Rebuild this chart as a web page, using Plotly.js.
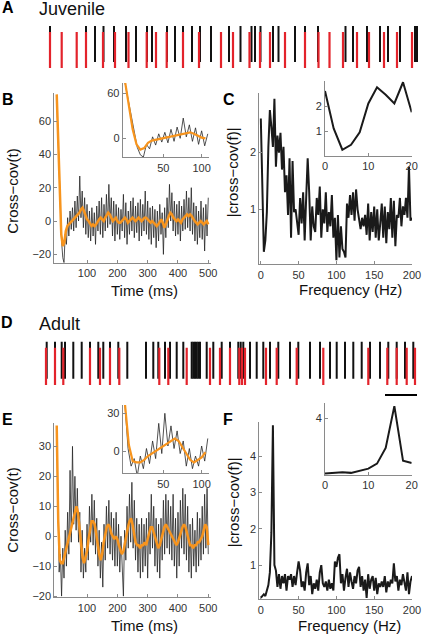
<!DOCTYPE html>
<html><head><meta charset="utf-8">
<script src="https://cdn.plot.ly/plotly-3.0.1.min.js"></script>
<style>html,body{margin:0;padding:0;background:#fff}#chart{width:426px;height:636px}</style>
</head><body><div id="chart"></div>
<script>
// ---------- DATA ----------
// Spike rasters (arbitrary time units along the raster)
const juvenileSpikesBlack = [50,86,95,103.5,114,126,136,147,152,167,175,183,192,200,211,229,240.5,251.5,255,260.5,273,278.5,295,305,318,345.5,353,367,380,388,400,415,417];
const juvenileSpikesRed   = [50,61.7,76.7,86,103,115,128.5,146.7,156,166.7,183,199,221,233,249.5,260,270,285,305,318.5,329.5,343,357,369,384,397,412];
const adultSpikesBlack = [46.7,55,61.7,65,73.3,81.7,90,98.3,103.3,110,118.3,127.3,146,153.3,158.3,165,170,176.7,183.3,191.7,193.3,195,196.7,198.3,200,206.7,213.3,221.7,230,238.3,240.7,243.3,250,256.7,263.3,270,278.3,290,298.3,310,320,330,336.7,345,353.3,361.7,370,380,388.3,396.7,405,413.3];
const adultSpikesRed   = [46,55,63.3,90,100,110,119.3,159.3,168.3,186.7,210,220,230,239.3,242,245,266,276.7,296.7,323.3,368.3,387.3,396.7,406.7,415];
const adultMarkerTime = 137;
const scaleBarStart = 385, scaleBarEnd = 417;

// Cross-covariance in time (raw every 4 ms, smoothed every 5 ms)
const rawStepMs = 4, smoothStepMs = 5;
const juvenileRaw = [74,52,28,5,-12,-22,-25,-8,-14,2,-9,6,-5,8,-6,12,-4,15,0,27,2,18,-4,14,-8,10,-10,6,-12,8,-9,5,-14,9,-6,12,-8,14,-10,10,-6,16,-4,22,-2,14,-9,12,-12,10,-8,8,-11,7,-6,16,-10,11,-14,6,-8,12,-6,14,-10,9,-7,11,-12,13,-9,10,-6,18,-8,12,-11,8,-14,9,-10,7,-16,6,-12,10,-8,5,-20,8,-10,14,-4,22,0,17,-6,12,-9,10,-8,12,-12,9,-6,13,-5,18,-4,14,-6,20,-8,11,-12,9,-14,6,-10,12,-11,8,-18,10,-9,14];
const juvenileSmooth = [76,45,12,-8,-15,-13,-6,-3,-2,-1,0,1,2,3,4,5,7,8,6,3,1,0,-2,-3,-2,-3,-2,0,1,2,1,0,2,4,5,4,2,0,1,2,0,-1,-1,0,1,2,1,-1,0,1,2,1,0,1,2,1,0,1,2,2,1,0,-1,0,-1,-2,-3,-2,0,1,-1,-4,-2,1,3,5,4,2,1,0,1,0,-1,1,2,3,4,3,4,3,1,0,-1,-2,-1,0,-1,-2,-1,0,-2];
const adultRaw = [36,2,-12,-6,-20,-4,-14,2,-10,8,-6,22,-2,30,4,20,2,16,-2,8,-12,2,-14,-4,-12,4,-8,10,-2,14,-3,12,-6,6,-10,2,-14,-2,-17,4,-8,10,-4,12,-6,8,-8,6,-10,8,-10,4,-12,0,-14,-20,2,-8,10,-4,14,-2,18,-4,12,-8,6,-12,4,-14,6,-12,4,-10,6,-14,8,-6,14,-4,10,-10,6,-12,4,-14,6,-8,12,-6,14,-4,12,-6,10,-8,14,-10,6,-14,8,-10,12,-4,16,-6,14,-8,10,-12,4,-14,6,-10,2,-12,8,-10,6,-8,10,-6,14,-4,16,-6];
const adultSmooth = [37,5,-8,-9,-9,-7,-4,-2,0,2,4,6,8,10,8,3,-3,-7,-9,-7,-5,-1,3,5,5,4,1,-3,-6,-8,-6,-2,1,3,4,3,1,0,-1,0,-1,-3,-5,-6,-5,-2,1,3,5,6,4,1,-2,-3,-3,-4,-3,-3,-2,-3,-1,1,3,3,1,-1,-3,-4,-3,-1,1,3,4,3,2,1,0,-1,-2,-3,-2,0,2,3,4,3,1,-1,-3,-3,-4,-3,-3,-2,-2,-1,0,2,4,3,-3];

// |cross-cov(f)| every 2 Hz, 0..200 Hz
const freqStepHz = 2;
const juvenileSpectrum = [2.6,1.1,0.25,0.45,0.95,2.1,2.75,2.45,2.1,2.95,1.75,2.3,2.0,2.35,1.7,2.1,1.3,1.6,0.9,1.9,0.5,1.85,0.95,1.0,0.8,0.55,1.2,0.75,1.3,0.45,1.2,1.9,1.3,0.45,1.05,0.7,0.6,1.2,0.9,1.4,0.5,1.0,0.75,1.3,0.6,0.95,0.7,1.25,0.5,0.85,0.1,0.9,0.15,0.7,0.3,0.25,0.15,1.1,0.85,1.25,0.9,1.3,0.8,1.35,1.0,0.8,0.65,0.85,0.7,0.9,0.55,1.1,0.45,0.95,0.6,1.05,0.5,1.0,0.45,0.75,1.1,0.5,1.05,0.4,0.95,0.65,1.2,0.5,1.15,0.35,0.9,0.85,1.2,0.7,1.05,0.9,1.2,0.85,1.75,0.8,0.85];
const adultSpectrum = [0.1,0.15,0.2,0.15,0.3,0.45,0.8,1.9,4.85,1.0,0.85,0.4,0.75,0.35,0.7,0.5,0.75,0.3,0.7,0.6,0.75,0.4,0.7,0.45,0.8,1.1,0.85,0.4,0.55,0.3,0.8,1.05,0.45,0.7,0.2,0.5,0.35,0.6,0.3,0.8,1.0,0.5,0.4,0.55,0.3,0.6,0.35,0.5,0.3,1.1,0.95,1.2,1.3,0.5,0.75,0.3,0.65,0.9,0.4,0.8,0.55,0.35,0.7,0.5,0.85,0.95,0.4,0.7,0.3,0.6,0.1,0.75,0.35,0.6,0.7,0.3,0.65,0.2,0.5,0.4,0.55,0.4,0.7,0.25,0.55,0.4,0.6,0.5,1.05,0.55,0.7,0.3,0.6,0.45,0.75,0.5,0.3,0.8,0.2,0.55,0.7];

const insetTimeMax = 108, insetFreqMax = 20;

// ---------- HELPERS ----------
const W = 426, H = 636;
const px = x => x / W, py = y => 1 - y / H;
const FONT = 'Liberation Sans, Arial, Helvetica, sans-serif';
const BLACK = '#111', RED = '#e3232b', ORANGE = '#f7941d', TRACE = '#262626', AXC = '#8a8a8a';
const axisOf = (step, n) => Array.from({length: n}, (_, i) => i * step);
function seg(times, y0, y1) {
  const xs = [], ys = [];
  times.forEach(t => { xs.push(t, t, null); ys.push(y0, y1, null); });
  return {x: xs, y: ys};
}
function upTo(xs, ys, max) {
  const ox = [], oy = [];
  xs.forEach((x, i) => { if (x <= max) { ox.push(x); oy.push(ys[i]); } });
  return {x: ox, y: oy};
}
function ax(domain, range, tickvals, anchor, size) {
  return {domain, range, tickvals, anchor, showline: true, linecolor: AXC, linewidth: 1,
    ticks: 'inside', ticklen: 3, tickcolor: AXC, showgrid: false, zeroline: false,
    tickfont: {family: FONT, size: size || 11, color: '#333'}, fixedrange: true};
}
const hidden = (domain, range) => ({domain, range, visible: false, fixedrange: true});

const tJr = axisOf(rawStepMs, juvenileRaw.length), tJs = axisOf(smoothStepMs, juvenileSmooth.length);
const tAr = axisOf(rawStepMs, adultRaw.length), tAs = axisOf(smoothStepMs, adultSmooth.length);
const fJ = axisOf(freqStepHz, juvenileSpectrum.length), fA = axisOf(freqStepHz, adultSpectrum.length);

const traces = [];
function line(xy, xa, ya, color, width) {
  traces.push({x: xy.x, y: xy.y, xaxis: xa, yaxis: ya, mode: 'lines', line: {color, width}, hoverinfo: 'skip'});
}
// rasters
line(seg(juvenileSpikesBlack, 6, 42), 'x', 'y', BLACK, 2);
line(seg(juvenileSpikesRed, 0, 36), 'x', 'y', RED, 2.2);
line(seg(adultSpikesBlack, 6, 42), 'x2', 'y2', BLACK, 2);
line(seg(adultSpikesRed, 0, 36), 'x2', 'y2', RED, 2.2);
traces.push({x: [adultMarkerTime], y: [49], xaxis: 'x2', yaxis: 'y2', mode: 'markers', cliponaxis: false,
  marker: {symbol: 'triangle-down', size: 11, color: '#000'}, hoverinfo: 'skip'});
// B
line({x: tJr, y: juvenileRaw}, 'x3', 'y3', TRACE, 0.8);
line({x: tJs, y: juvenileSmooth}, 'x3', 'y3', ORANGE, 2.5);
line(upTo(tJr, juvenileRaw, insetTimeMax), 'x4', 'y4', TRACE, 0.8);
line(upTo(tJs, juvenileSmooth, insetTimeMax), 'x4', 'y4', ORANGE, 2.2);
// C
line({x: fJ, y: juvenileSpectrum}, 'x5', 'y5', '#1a1a1a', 2);
line(upTo(fJ, juvenileSpectrum, insetFreqMax), 'x6', 'y6', '#1a1a1a', 2);
// E
line({x: tAr, y: adultRaw}, 'x7', 'y7', TRACE, 0.8);
line({x: tAs, y: adultSmooth}, 'x7', 'y7', ORANGE, 2.5);
line(upTo(tAr, adultRaw, insetTimeMax), 'x8', 'y8', TRACE, 0.8);
line(upTo(tAs, adultSmooth, insetTimeMax), 'x8', 'y8', ORANGE, 2.2);
// F
line({x: fA, y: adultSpectrum}, 'x9', 'y9', '#1a1a1a', 2);
line(upTo(fA, adultSpectrum, insetFreqMax), 'x10', 'y10', '#1a1a1a', 2);

function ann(text, x, y, opts) {
  return Object.assign({text, x: px(x), y: py(y), xref: 'paper', yref: 'paper', showarrow: false,
    font: {family: FONT, size: 15, color: '#111'}, xanchor: 'center', yanchor: 'middle'}, opts || {});
}
const letter = (t, x, y) => ann('<b>' + t + '</b>', x, y, {font: {family: FONT, size: 16, color: '#000'}});

const layout = {
  width: W, height: 636, margin: {l: 0, r: 0, t: 0, b: 0}, showlegend: false,
  paper_bgcolor: '#fff', plot_bgcolor: 'rgba(0,0,0,0)',
  xaxis: hidden([0, 1], [0, 426]), yaxis: hidden([py(68), py(26)], [0, 42]),
  xaxis2: Object.assign(hidden([0, 1], [0, 426]), {anchor: 'y2'}), yaxis2: Object.assign(hidden([py(385), py(341.5)], [0, 42]), {anchor: 'x2'}),
  xaxis3: ax([px(54.3), px(210.7)], [-8, 508], [100, 200, 300, 400, 500], 'y3'),
  yaxis3: ax([py(262.7), py(92.7)], [-25, 77], [-20, 0, 20, 40, 60], 'x3'),
  xaxis4: ax([px(122.7), px(209.3)], [-3, 110], [50, 100], 'y4'),
  yaxis4: ax([py(157.3), py(83)], [-25.3, 73.8], [0, 60], 'x4'),
  xaxis5: ax([px(259.3), px(412)], [-2, 200], [0, 50, 100, 150, 200], 'y5'),
  yaxis5: ax([py(264.3), py(93)], [0.03, 3.05], [1, 2], 'x5'),
  xaxis6: ax([px(325), px(411.7)], [0, 20], [0, 10, 20], 'y6'),
  yaxis6: ax([py(156), py(81)], [0, 3.0], [1, 2], 'x6'),
  xaxis7: ax([px(54.3), px(210.7)], [-8, 508], [100, 200, 300, 400, 500], 'y7'),
  yaxis7: ax([py(597.3), py(423)], [-20.4, 37.8], [-20, -10, 0, 10, 20, 30], 'x7'),
  xaxis8: ax([px(122.7), px(209.3)], [-3, 110], [50, 100], 'y8'),
  yaxis8: ax([py(473.3), py(405)], [-17.7, 36.6], [0, 30], 'x8'),
  xaxis9: ax([px(259.3), px(412)], [-2, 200], [0, 50, 100, 150, 200], 'y9'),
  yaxis9: ax([py(599.3), py(421.5)], [0.06, 4.95], [1, 2, 3, 4], 'x9'),
  xaxis10: ax([px(325), px(411.7)], [0, 20], [0, 10, 20], 'y10'),
  yaxis10: ax([py(475), py(403.3)], [0, 5.05], [4], 'x10'),
  shapes: [{type: 'line', xref: 'x2', yref: 'paper', x0: scaleBarStart, x1: scaleBarEnd, y0: py(395), y1: py(395), line: {color: '#000', width: 2}}],
  annotations: [
    letter('A', 7.5, 8), ann('Juvenile', 37, 9, {xanchor: 'left', font: {family: FONT, size: 18, color: '#111'}}),
    letter('B', 7.5, 99), letter('C', 229, 99),
    letter('D', 6.5, 322.5), ann('Adult', 37, 324, {xanchor: 'left', font: {family: FONT, size: 18, color: '#111'}}),
    letter('E', 7.5, 419), letter('F', 228, 419),
    ann('Cross\u2212cov(t)', 13, 191.7, {textangle: -90}),
    ann('Time (ms)', 144, 290),
    ann('|cross\u2212cov(f)|', 233.3, 172, {textangle: -90}),
    ann('Frequency (Hz)', 350, 289.3),
    ann('Cross\u2212cov(t)', 13, 510.7, {textangle: -90}),
    ann('Time (ms)', 144, 625.5),
    ann('|cross\u2212cov(f)|', 233.3, 502, {textangle: -90}),
    ann('Frequency (Hz)', 349, 625.5)
  ]
};
Plotly.newPlot('chart', traces, layout, {staticPlot: true, displayModeBar: false});
</script></body></html>
